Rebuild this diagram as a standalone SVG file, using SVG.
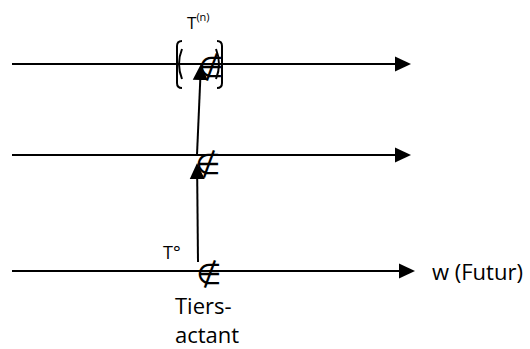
<svg xmlns="http://www.w3.org/2000/svg" width="530" height="349" viewBox="0 0 530 349">
<style>
.ln{stroke:#000;stroke-width:2;fill:none}
.br{stroke:#000;stroke-width:2;fill:none}
.tx{font-family:"Open Sans","Liberation Sans",sans-serif;fill:#000}
.sym{font-family:"DejaVu Sans",sans-serif;font-size:29px;fill:#000;text-anchor:middle}
</style>
<defs>
<marker id="ah" markerUnits="userSpaceOnUse" markerWidth="16" markerHeight="16" viewBox="0 -8 16 16" refX="1" refY="0" orient="auto">
<path d="M0,-7.5 L16,0 L0,7.5 z" fill="#000"/>
</marker>
</defs>
<g id="connectors">
<line class="ln" x1="12" y1="64" x2="396" y2="64" marker-end="url(#ah)"/>
<line class="ln" x1="12" y1="155" x2="396" y2="155" marker-end="url(#ah)"/>
<line class="ln" x1="12" y1="271" x2="400" y2="271" marker-end="url(#ah)"/>
<line class="ln" x1="198" y1="262" x2="197.2" y2="178" marker-end="url(#ah)"/>
<line class="ln" x1="197" y1="155" x2="200.3" y2="79" marker-end="url(#ah)"/>
</g>
<g id="node-tn">
<text class="tx" x="187" y="29" font-size="17">T<tspan font-size="11" dy="-8">(n)</tspan></text>
<path class="br" d="M182,41 Q177,41 177,46 L177,83 Q177,88 182,88"/>
<path class="br" d="M182,49 Q176,64 182,79"/>
<path class="br" d="M217,41 Q222,41 222,46 L222,83 Q222,88 217,88"/>
<path class="br" d="M216,49 Q222,64 216,79"/>
<text class="sym" x="211" y="77">∉</text>
</g>
<g id="node-mid">
<text class="sym" x="208" y="174">∉</text>
</g>
<g id="node-t0">
<text class="tx" x="163" y="259" font-size="18">T°</text>
<text class="sym" x="209" y="284">∉</text>
</g>
<g id="node-tiers">
<text class="tx" x="175" y="314" font-size="22">Tiers-</text>
<text class="tx" x="175" y="343" font-size="22">actant</text>
</g>
<g id="node-w">
<text class="tx" x="432" y="280" font-size="22">w (Futur)</text>
</g>
</svg>
